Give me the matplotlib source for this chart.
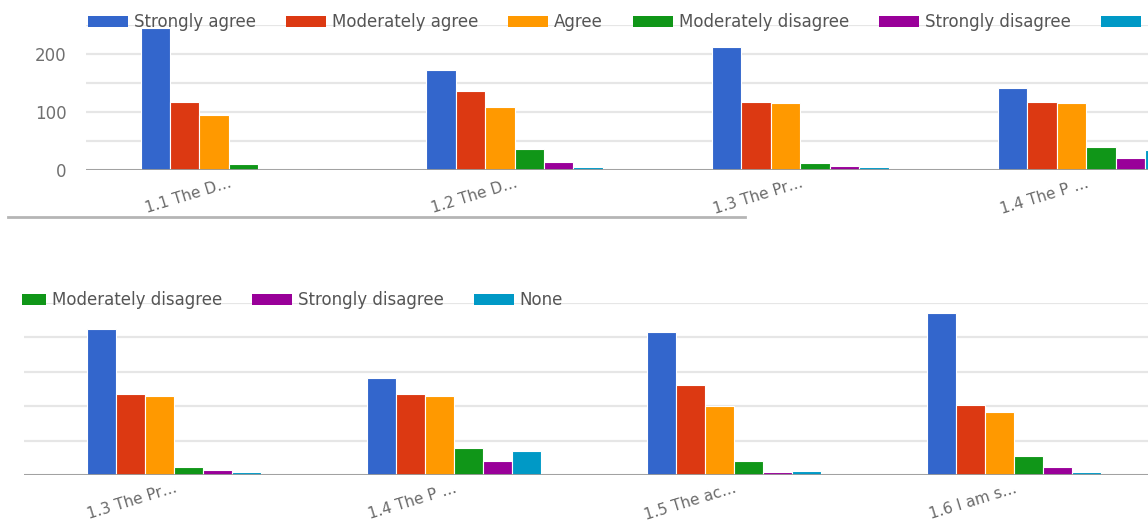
import matplotlib
matplotlib.use("Agg")
import matplotlib.pyplot as plt
import numpy as np
from matplotlib.patches import Rectangle
from matplotlib.lines import Line2D

categories = ["1.1 The D…", "1.2 The D…", "1.3 The Pr…", "1.4 The P …", "1.5 The ac…", "1.6 I am s…"]
series_names = ["Strongly agree", "Moderately agree", "Agree", "Moderately disagree", "Strongly disagree", "None"]
strongly_agree = [245, 172, 212, 141, 207, 235]
moderately_agree = [117, 136, 118, 117, 130, 102]
agree = [95, 108, 115, 115, 100, 91]
moderately_disagree = [10, 37, 12, 39, 21, 27]
strongly_disagree = [2, 13, 7, 20, 4, 11]
none = [2, 6, 5, 35, 6, 4]
series_values = [strongly_agree, moderately_agree, agree, moderately_disagree, strongly_disagree, none]
colors = ["#3366cc", "#dc3912", "#ff9900", "#109618", "#990099", "#0099c6"]
y_ticks = [0, 100, 200]

W, H = 1148, 520
fig = plt.figure(figsize=(W / 100, H / 100), dpi=100)
plt.rcParams['font.family'] = ['DejaVu Sans']

def px(x, y):
    return x / W, (H - y) / H

def make_axes(left_px, zero_px, top_px, xlim, show_yticks):
    l, b = px(left_px, zero_px)
    _, t = px(left_px, top_px)
    ax = fig.add_axes([l, b, 1.0 - l, t - b])
    x = np.arange(len(categories))
    step = 0.103
    for i, (vals, col) in enumerate(zip(series_values, colors)):
        ax.bar(x + (i - 2.5) * step, vals, width=step, color=col,
               edgecolor="white", linewidth=0.8, zorder=3)
    ax.set_yticks([0, 50, 100, 150, 200, 250])
    ax.yaxis.grid(True, color="#e6e6e6", linewidth=1.6, zorder=0)
    ax.axhline(0, color="#9a9a9a", linewidth=2, zorder=4)
    for s in ax.spines.values():
        s.set_visible(False)
    ax.set_xticks(x)
    ax.set_xticklabels(categories, rotation=17, ha="right", rotation_mode="anchor",
                       fontsize=11, color="#6a6a6a")
    ax.tick_params(axis="x", length=0, pad=4)
    if show_yticks:
        ax.set_yticklabels([str(v) if v in y_ticks else "" for v in [0, 50, 100, 150, 200, 250]],
                           fontsize=12, color="#707070")
        ax.tick_params(axis="y", length=0, pad=14)
    else:
        ax.set_yticklabels([])
        ax.tick_params(axis="y", length=0)
    ax.set_xlim(*xlim)
    ax.set_ylim(0, 250)
    ax.patch.set_alpha(0)
    return ax

# top chart: category spacing 285.7 px, first center at 229 px
sp1 = 285.7
ax1 = make_axes(86, 170, 25, (-0.5, (W - 229) / sp1), True)
# bottom chart: category spacing 280 px, third category center at 174 px
sp2 = 280.0
ax2 = make_axes(24, 475, 302.5, (2 + (24 - 174) / sp2, 2 + (W - 174) / sp2), False)

handles = [Rectangle((0, 0), 1, 1, facecolor=c, edgecolor="none") for c in colors]
leg_kw = dict(ncol=6, frameon=False, fontsize=12, handlelength=2.4, handleheight=0.65,
              handletextpad=0.35, columnspacing=1.8, borderpad=0, borderaxespad=0,
              labelcolor="#555555", loc="center left")
x0, y0 = px(88, 22)
fig.legend(handles, series_names, bbox_to_anchor=(x0, y0), **leg_kw)
x0b, y0b = px(88 - 627, 300)
leg2 = fig.legend(handles, series_names, bbox_to_anchor=(x0b, y0b), **leg_kw)

# white left margin of the lower screenshot (hides the scrolled-out part of its legend)
mx, my = px(0, 312)
fig.add_artist(Rectangle((mx, my), 22 / W, 24 / H, transform=fig.transFigure,
                         facecolor="white", edgecolor="none", zorder=10))

# separator line between the two screenshots
xa, ya = px(8, 217)
xb, _ = px(745, 217)
fig.add_artist(Line2D([xa, xb], [ya, ya], color="#b5b5b5", linewidth=2, transform=fig.transFigure))

fig.savefig("out.png", dpi=100)
